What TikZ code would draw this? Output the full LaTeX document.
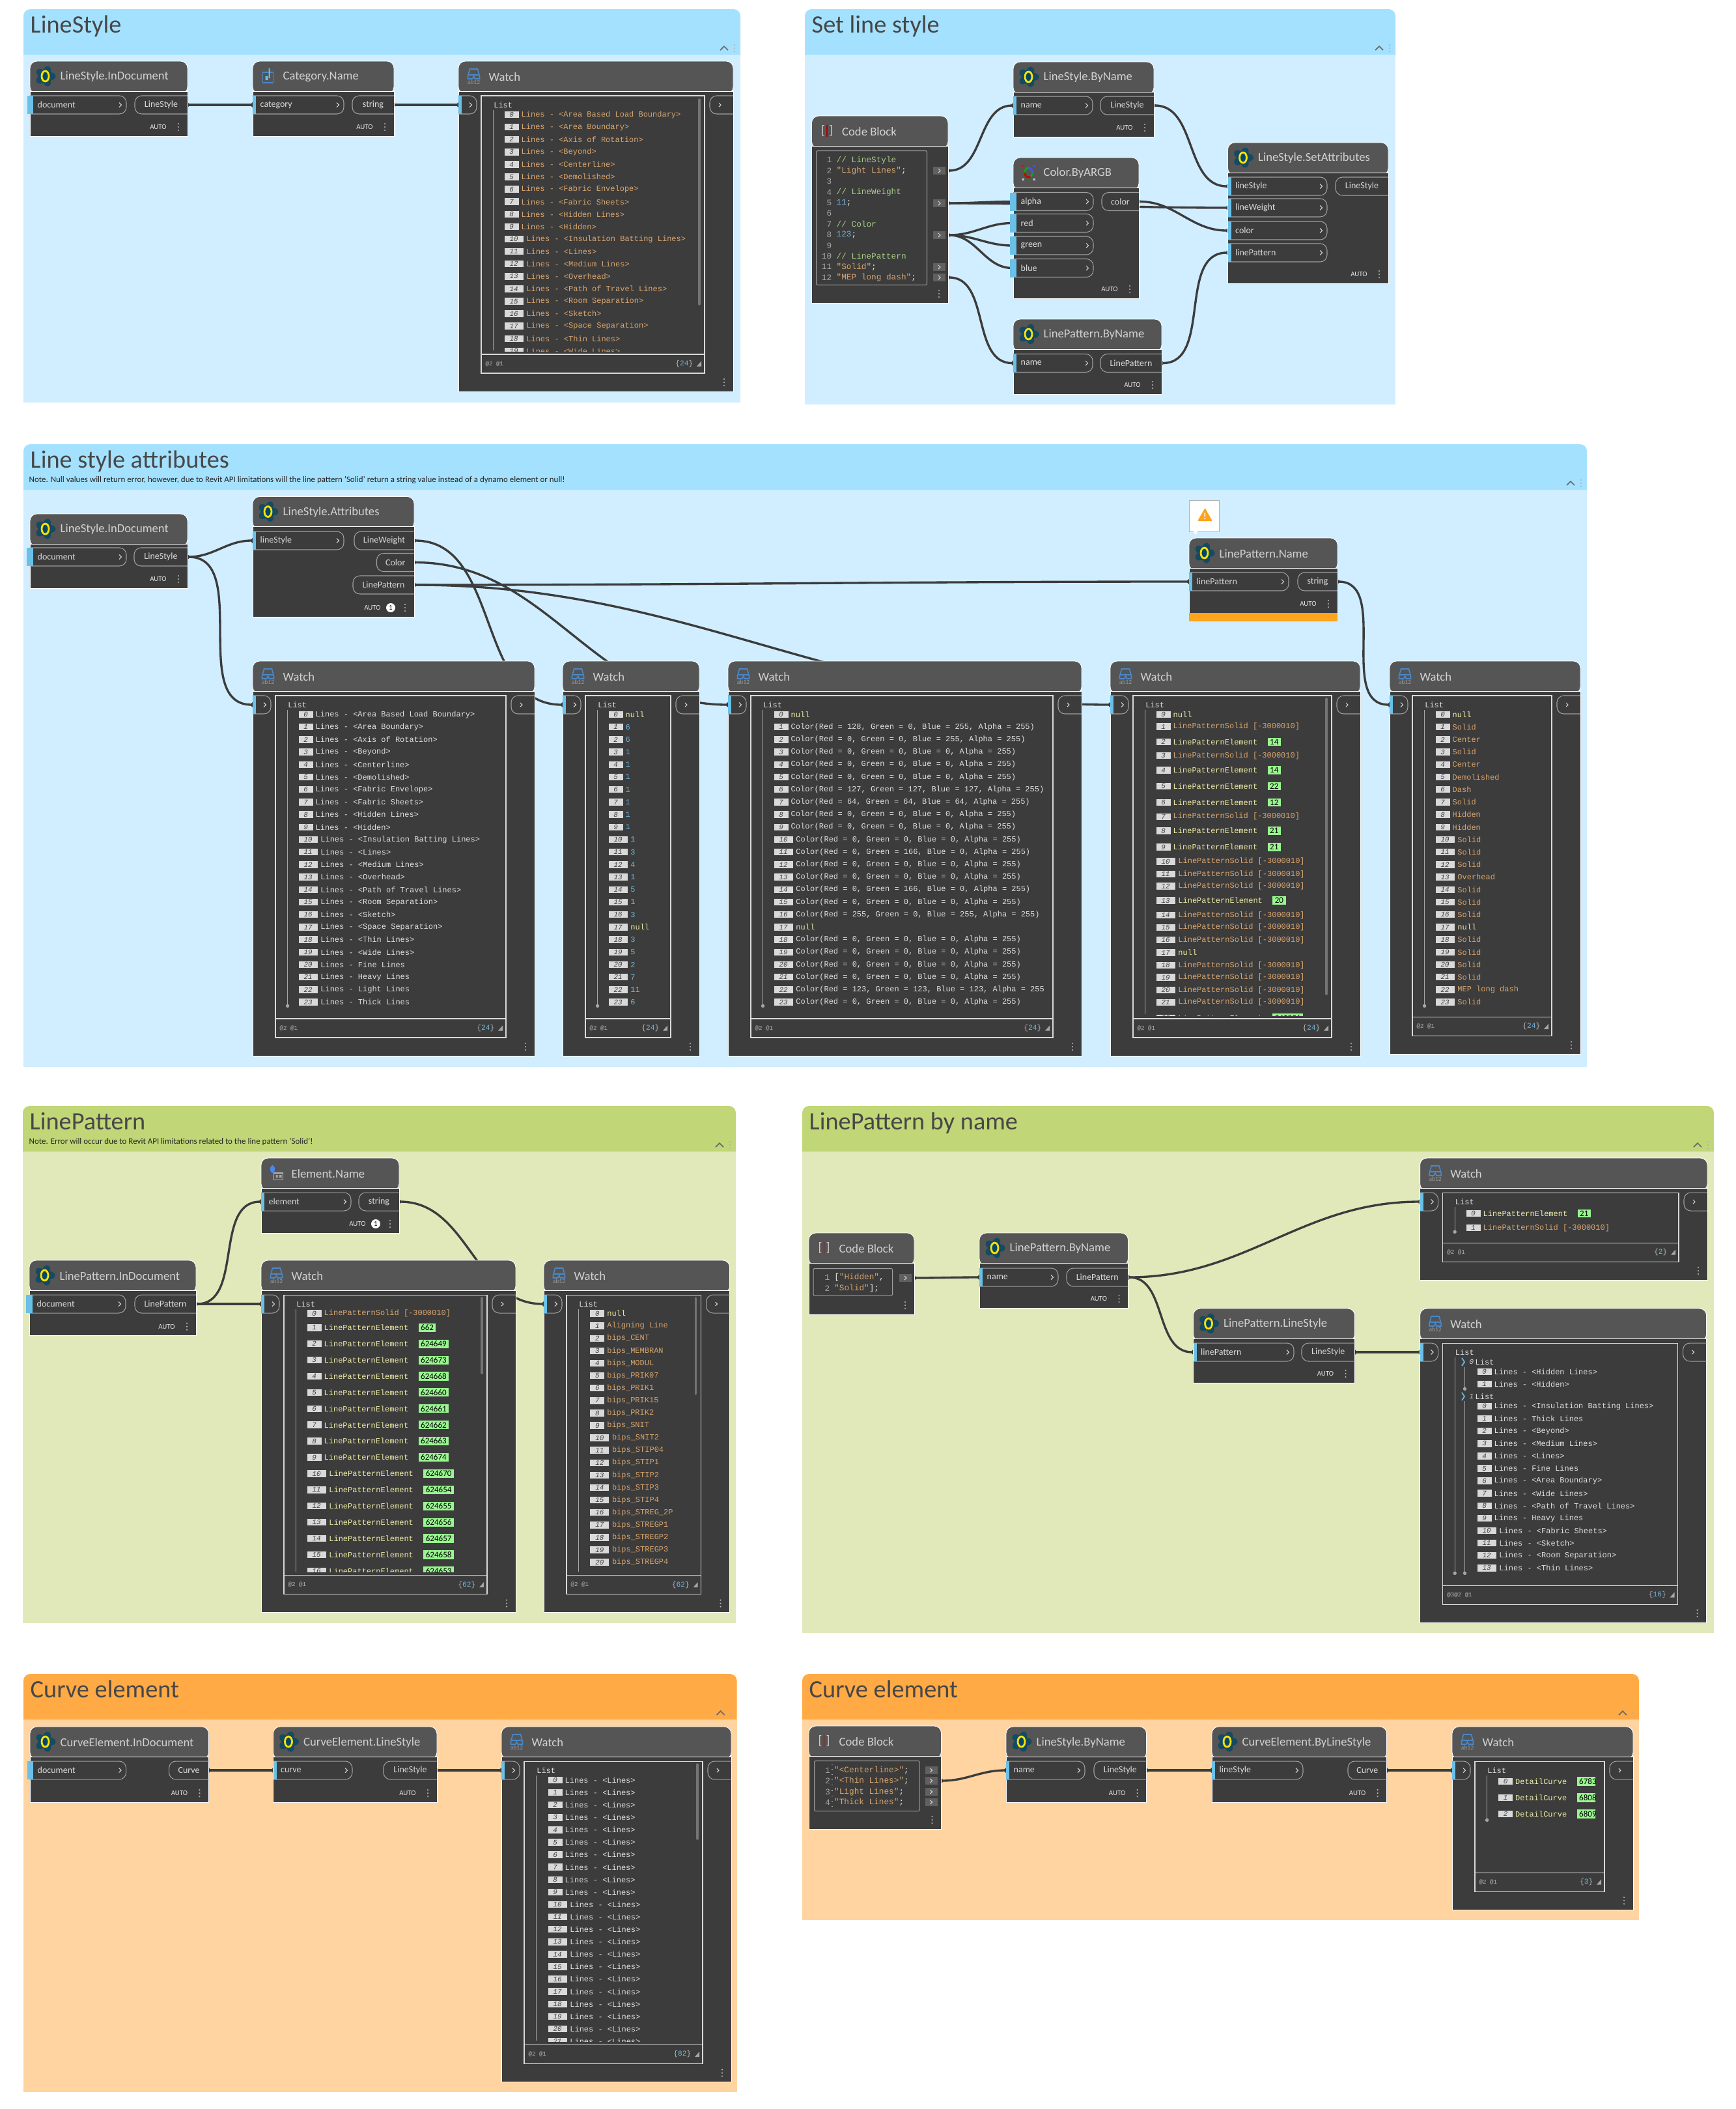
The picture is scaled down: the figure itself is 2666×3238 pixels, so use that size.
\documentclass[tikz,border=0pt]{standalone}
\usepackage{fontspec}
\setmainfont{Carlito}
\newfontfamily\listfont{Liberation Mono}
\usetikzlibrary{arrows.meta}
\usetikzlibrary{positioning}

\pgfdeclarelayer{grp}
\pgfdeclarelayer{wires}
\pgfsetlayers{grp,wires,main}

\definecolor{head_blue}{HTML}{A4E1FF}
\definecolor{body_blue}{HTML}{D0EEFF}
\definecolor{head_green}{HTML}{C1D676}
\definecolor{body_green}{HTML}{E1E9BB}
\definecolor{head_orange}{HTML}{FFAA45}
\definecolor{body_orange}{HTML}{FFD4A1}
\definecolor{node_dark}{HTML}{3C3C3C}
\definecolor{node_head}{HTML}{555555}
\definecolor{port_blue}{HTML}{6AC0E7}
\definecolor{str_col}{HTML}{D9A56E}
\definecolor{elem_col}{HTML}{EDEBA6}
\definecolor{num_col}{HTML}{6AB8E4}
\definecolor{com_col}{HTML}{A5CF85}
\definecolor{tag_green}{HTML}{98F58F}
\definecolor{warn_col}{HTML}{FCA41E}
\definecolor{scroll_col}{HTML}{747474}
\definecolor{glass_col}{HTML}{4A88C7}

\newcommand{\cstr}[1]{\textcolor{str_col}{#1}}
\newcommand{\ccom}[1]{\textcolor{com_col}{#1}}
\newcommand{\cnum}[1]{\textcolor{num_col}{#1}}
\newcommand{\solidtxt}{LinePatternSolid [-3000010]}

% group panel: name, x1, y1, x2, y2, header bottom, colours, title
\newcommand{\panel}[9]{%
  \begin{pgfonlayer}{grp}
    \fill[#7, rounded corners=3pt] (#2,#3) rectangle (#4,#6+12);
    \node[panel_body, fill=#8, px_size={#4-#2}{#5-#6}] (#1) at (#2,#6) {};
  \end{pgfonlayer}
  \node[group_title] (#1_title) at (#2+10,#3+36) {#9};
  \draw[collapse_line] (#4-31,#6-7) -- (#4-25,#6-13) -- (#4-19,#6-7);
  \dotcol{#4-9}{#6-10}
}
\newcommand{\dotcol}[2]{%
  \fill[dot_fill] (#1,#2-5) circle (0.35pt) (#1,#2) circle (0.35pt) (#1,#2+5) circle (0.35pt);
}

% icons, centred on the given point
\newcommand{\iconrevit}[3]{%
  \begin{scope}[shift={(#2,#3)}]
    \foreach \a in {90,162,234,306,378}
      \fill[icon_petal, rotate=\a] (0,8) ellipse (6 and 8);
    \draw[icon_ring] (0,0) ellipse (5.5 and 8);
  \end{scope}
}
\newcommand{\iconwatch}[3]{%
  \begin{scope}[shift={(#2,#3)}]
    \draw[icon_glass] (-9,0) -- (-6,-11) -- (6,-11) -- (9,0) -- (9,4) -- (2,4) -- (0,0) -- (-2,4) -- (-9,4) -- cycle (-9,-2) -- (9,-2);
    \node[icon_text] (#1_ab) at (0,9) {ab12};
  \end{scope}
}
\newcommand{\iconcode}[3]{%
  \node[icon_bracket] (#1_ic) at (#2,#3) {[\hspace{1.7pt}]};
  \draw[icon_red] (#2,#3-9) -- (#2,#3+9);
}
\newcommand{\iconcat}[3]{%
  \begin{scope}[shift={(#2,#3)}]
    \draw[icon_glass] (-8,-6) rectangle (8,10);
    \fill[port_blue] (-4,0) rectangle (0,6) (1,-12) rectangle (3,3);
  \end{scope}
}
\newcommand{\iconcolor}[3]{%
  \begin{scope}[shift={(#2,#3)}]
    \draw[green!70!black, line width=0.8pt] (0,0) ellipse (6 and 7);
    \draw[red!80!black, line width=0.8pt] (-6,0) arc (180:60:6 and 7);
    \draw[blue!70, line width=0.8pt] (6,0) arc (0:-90:6 and 7);
    \fill[red] (-10,-12) rectangle (-7,-9);
    \fill[blue!70] (7,-12) rectangle (10,-9);
    \fill[gray!40] (-10,9) rectangle (-7,12) (7,9) rectangle (10,12);
  \end{scope}
}
\newcommand{\iconelem}[3]{%
  \begin{scope}[shift={(#2,#3)}]
    \fill[port_blue!70!blue] (-6,-6) ellipse (3.5 and 6);
    \draw[icon_grey] (-4,0) rectangle (10,10);
    \fill[gray!70] (-1,3) rectangle (2,7) (4,3) rectangle (8,7);
  \end{scope}
}

% node: icon macro, name, x, y, w, h, title
\newcommand{\dynnode}[7]{%
  \filldraw[node_head, draw=white, line width=0.25pt, rounded corners=3pt] (#3,#4) rectangle ++(#5,50);
  \node[node_body, px_size={#5}{#6-46}] (#2) at (#3,#4+46) {};
  #1{#2}{#3+23.5}{#4+23}
  \node[node_title] (#2_title) at (#3+46,#4+24) {#7};
  \dotcol{#3+#5-14}{#4+#6-14}
}
\newcommand{\autotext}[1]{%
  \node[auto_text] (#1_auto) at ([shift={(-45,-14)}]#1.south east) {AUTO};
}
\newcommand{\autoone}[1]{%
  \node[auto_text] (#1_auto) at ([shift={(-64,-14)}]#1.south east) {AUTO};
  \node[one_badge] (#1_one) at ([shift={(-36,-14)}]#1.south east) {1};
}
% ports
\newcommand{\inport}[6][0]{%
  \node[port_box, px_size={#5}{28}] (#2) at (#3,#4) {};
  \draw[port_line, rounded corners=3pt] (#3,#4) -- (#3+#5,#4) -- (#3+#5,#4+28) -- (#3,#4+28);
  \fill[port_blue] (#3-#1,#4) rectangle (#3+5,#4+28);
  \node[port_text, right=0.11cm of #2.west] (#2_text) {#6};
  \draw[port_chev] (#3+#5-11,#4+10.5) -- (#3+#5-7.5,#4+14) -- (#3+#5-11,#4+17.5);
}
\newcommand{\outport}[5]{%
  \node[port_box, text=white!85!black, font=\fontsize{3.98}{4.5}\selectfont, px_size={#4-#2}{28}] (#1) at (#2,#3) {#5};
  \draw[port_line, rounded corners=3pt] (#4,#3) -- (#2,#3) -- (#2,#3+28) -- (#4,#3+28);
}
\newcommand{\wire}[2]{%
  \begin{pgfonlayer}{wires}
    \draw[wire_line] (#1) to[out=0,in=180] (#2);
  \end{pgfonlayer}
}
% watch: [depth text], name, x, y, w, h, count
\newcommand{\watchnode}[7][@2 @1]{%
  \dynnode{\iconwatch}{#2}{#3}{#4}{#5}{#6}{Watch}
  \inport{#2_in}{#3}{#4+53}{28}{}
  \outport{#2_out}{#3+#5-36}{#4+53}{#3+#5}{}
  \draw[port_chev] (#3+#5-22,#4+64) -- (#3+#5-19,#4+67) -- (#3+#5-22,#4+70);
  \node[list_box, px_size={#5-79}{#6-110}] (#2_list) at (#3+35,#4+53) {};
  \node[list_box, px_size={#5-79}{29}] (#2_foot) at (#3+35,#4+#6-57) {};
  \node[foot_text, right=0.06cm of #2_foot.west] (#2_depth) {#1};
  \node[count_text, left=0.17cm of #2_foot.east] (#2_count) {\{\cnum{#7}\}};
  \fill[gray!70] ([shift={(-5,-4)}]#2_foot.east) -- ([shift={(-5,4)}]#2_foot.east) -- ([shift={(-12,4)}]#2_foot.east) -- cycle;
  \node[row_plain] (#2_head) at (#3+53.6,#4+67) {List};
}
\newcommand{\treeline}[3][-]{%
  \draw[tree_line, #1] ([shift={(0,8)}]#2_head.west) -- (#2_head.west |- 0,#3);
}
\newcommand{\scrollbar}[3]{%
  \draw[scroll_line] (#1,#2) -- (#1,#3);
}
% one row of a watch list: name, x, y, index, text, style
\newcommand{\listrow}[6]{%
  \ifnum#4>9 \def\idxw{29}\def\idxt{33.7}\else\def\idxw{22}\def\idxt{26}\fi
  \node[idx_box, px_size={\idxw}{10.5}] (#1_b#4) at (#2,#3) {#4};
  \node[#6] (#1_r#4) at (#2+\idxt,#3) {#5};
}
\newcommand{\tagrow}[6][LinePatternElement]{%
  \listrow{#2}{#3}{#4}{#5}{#1}{row_elem}
  \node[id_tag, right=0.14cm of #2_r#5] (#2_t#5) {#6};
}
% code block helpers
\newcommand{\codeline}[6]{%
  \node[line_num] (#1_n#5) at (#2,#4) {#5};
  \node[code_text] (#1_c#5) at (#3,#4) {#6};
}
\newcommand{\codeout}[3]{%
  \node[code_port] (#1) at (#2,#3) {};
  \draw[port_chev] (#2+8,#3-3) -- (#2+11,#3) -- (#2+8,#3+3);
}
\newcommand{\linesnames}{Lines - <Area Based Load Boundary>, Lines - <Area Boundary>, Lines - <Axis of Rotation>, Lines - <Beyond>, Lines - <Centerline>, Lines - <Demolished>, Lines - <Fabric Envelope>, Lines - <Fabric Sheets>, Lines - <Hidden Lines>, Lines - <Hidden>, Lines - <Insulation Batting Lines>, Lines - <Lines>, Lines - <Medium Lines>, Lines - <Overhead>, Lines - <Path of Travel Lines>, Lines - <Room Separation>, Lines - <Sketch>, Lines - <Space Separation>, Lines - <Thin Lines>, Lines - <Wide Lines>, Lines - Fine Lines, Lines - Heavy Lines, Lines - Light Lines, Lines - Thick Lines}

\begin{document}
\begin{tikzpicture}[
    x=0.01cm, y=-0.01cm,
    px_size/.style 2 args={minimum width=(#1)*0.01cm, minimum height=(#2)*0.01cm},
    panel_body/.style={rectangle, anchor=north west, inner sep=0pt, outer sep=0pt},
    group_title/.style={anchor=base west, inner sep=0pt, text=black!72, font=\fontsize{10.9}{12}\selectfont},
    group_note/.style={anchor=base west, inner sep=0pt, text=black!85, font=\fontsize{3.69}{4}\selectfont},
    collapse_line/.style={gray!85!black, line width=0.5pt},
    dot_fill/.style={fill=gray!60},
    node_body/.style={rectangle, anchor=north west, fill=node_dark, draw=white, line width=0.25pt, inner sep=0pt, outer sep=0pt},
    node_head/.style={fill=node_head},
    node_title/.style={anchor=west, inner sep=0pt, text=white!82!black, font=\fontsize{5.3}{6}\selectfont},
    auto_text/.style={inner sep=0pt, text=white!90!black, font=\fontsize{3.1}{4}\selectfont},
    one_badge/.style={circle, fill=white, inner sep=0pt, minimum size=0.14cm, text=black, font=\fontsize{3.1}{4}\selectfont},
    port_box/.style={rectangle, anchor=north west, inner sep=0pt, outer sep=0pt},
    port_line/.style={gray!75, line width=0.3pt},
    port_chev/.style={white!85!black, line width=0.3pt},
    port_text/.style={anchor=west, inner sep=0pt, text=white!85!black, font=\fontsize{3.98}{4.5}\selectfont},
    port_blue/.style={fill=port_blue},
    wire_line/.style={{Circle[length=2pt]}-{Circle[length=2pt]}, draw=node_dark, line width=0.95pt, shorten <=-1pt, shorten >=-1pt},
    list_box/.style={rectangle, anchor=north west, draw=white!85!black, line width=0.3pt, inner sep=0pt, outer sep=0pt},
    foot_text/.style={inner sep=0pt, text=white!70!black, font=\listfont\fontsize{2.6}{3}\selectfont},
    count_text/.style={inner sep=0pt, text=white!70!black, font=\listfont\fontsize{3.2}{4}\selectfont},
    tree_line/.style={gray!70, line width=0.3pt},
    tree_dot/.style={-{Circle[length=1.5pt]}},
    scroll_line/.style={scroll_col, line width=1pt, line cap=round},
    idx_box/.style={rectangle, anchor=west, fill=white!85!black, inner sep=0pt, text=black!75, font=\listfont\itshape\fontsize{3.1}{3}\selectfont},
    row_plain/.style={anchor=west, inner sep=0pt, text=white!88!black, font=\listfont\fontsize{3.41}{4}\selectfont},
    row_str/.style={row_plain, text=str_col},
    row_elem/.style={row_plain, text=elem_col},
    row_null/.style={row_plain, text=elem_col},
    row_num/.style={row_plain, text=num_col},
    id_tag/.style={rectangle, fill=tag_green, inner xsep=1pt, inner ysep=0.6pt, text=black, font=\fontsize{3.7}{4}\selectfont},
    code_box/.style={rectangle, anchor=north west, draw=gray!75, rounded corners=0.6pt, line width=0.3pt, inner sep=0pt},
    code_text/.style={anchor=west, inner sep=0pt, text=white!90!black, font=\listfont\fontsize{3.62}{4}\selectfont},
    line_num/.style={anchor=east, inner sep=0pt, text=gray!70, font=\listfont\fontsize{3.62}{4}\selectfont},
    code_port/.style={rectangle, anchor=west, fill=gray!75!black, minimum width=0.19cm, minimum height=0.12cm, inner sep=0pt, outer sep=0pt},
    icon_petal/.style={fill=blue!30!cyan!40!black, opacity=0.75},
    icon_ring/.style={draw=yellow!85!orange, line width=0.8pt},
    icon_glass/.style={draw=glass_col, line width=0.45pt},
    icon_grey/.style={draw=gray!60, line width=0.3pt},
    icon_text/.style={inner sep=0pt, text=gray!80, font=\fontsize{2.7}{3}\selectfont},
    icon_bracket/.style={inner sep=0pt, text=white!80!black, font=\fontsize{5.5}{6}\selectfont},
    icon_red/.style={draw=red!70!black, line width=0.5pt},
    warn_bubble/.style={rectangle, anchor=north west, fill=white, draw=gray!60, line width=0.25pt, inner sep=0pt},
    warn_band/.style={rectangle, anchor=north west, fill=warn_col, inner sep=0pt, outer sep=0pt}
]
\useasboundingbox (0,0) rectangle (2666,3238);

% Groups
\panel{g1}{36}{14}{1137}{618}{84}{head_blue}{body_blue}{LineStyle}
\panel{g2}{1236}{14}{2143}{621}{84}{head_blue}{body_blue}{Set line style}
\panel{g3}{36}{682}{2437}{1638}{752}{head_blue}{body_blue}{Line style attributes}
\panel{g4}{35}{1698}{1130}{2491.5}{1768}{head_green}{body_green}{LinePattern}
\panel{g5}{1232}{1698}{2632}{2507}{1768}{head_green}{body_green}{LinePattern by name}
\panel{g6}{36}{2570}{1131.6}{3212}{2640}{head_orange}{body_orange}{Curve element}
\panel{g7}{1232}{2570}{2517}{2948}{2640}{head_orange}{body_orange}{Curve element}
\node[group_note] (g3_note) at (44,740) {Note. Null values will return error, however, due to Revit API limitations will the line pattern 'Solid' return a string value instead of a dynamo element or null!};
\node[group_note] (g4_note) at (44,1756) {Note. Error will occur due to Revit API limitations related to the line pattern 'Solid'!};

% LineStyle
\dynnode{\iconrevit}{g1_doc}{46}{94}{242}{115}{LineStyle.InDocument}
\inport[4]{g1_doc_in}{46}{147}{148}{document}
\outport{g1_doc_out}{207}{147}{288}{LineStyle}
\autotext{g1_doc}
\dynnode{\iconcat}{g1_cat}{388}{94}{217}{115}{Category.Name}
\inport{g1_cat_in}{388}{147}{140}{category}
\outport{g1_cat_out}{541}{147}{605}{string}
\autotext{g1_cat}
\watchnode{g1_w}{704}{94}{422}{507}{24}
\treeline{g1_w}{538}
\scrollbar{1074}{153}{467}
\begin{scope}
  \clip (g1_w_list.north west) rectangle ([shift={(-14,-5)}]g1_w_list.south east);
  \foreach \txt [count=\k from 0] in \linesnames
    {\listrow{g1_w}{774}{176+19.1*\k}{\k}{\txt}{row_str}}
\end{scope}
\wire{g1_doc_out.east}{g1_cat_in.west}
\wire{g1_cat_out.east}{g1_w_in.west}

% Set line style
\dynnode{\iconcode}{g2_code}{1246.5}{178}{209.5}{287}{Code Block}
\node[code_box, px_size={170}{206}] (g2_edit) at (1253,231) {};
\foreach \txt [count=\k] in {{\ccom{// LineStyle}}, {\cstr{"Light Lines"};}, {}, {\ccom{// LineWeight}}, {\cnum{11};}, {}, {\ccom{// Color}}, {\cnum{123};}, {}, {\ccom{// LinePattern}}, {\cstr{"Solid"};}, {\cstr{"MEP long dash"};}}
  {\codeline{g2_code}{1278}{1284}{229.3+16.4*\k}{\k}{\txt}}
\codeout{g2_o0}{1433}{262}
\codeout{g2_o1}{1433}{312}
\codeout{g2_o2}{1433}{361}
\codeout{g2_o3}{1433}{410}
\codeout{g2_o4}{1433}{426}
\dynnode{\iconrevit}{g2_ls}{1556}{95}{216}{115}{LineStyle.ByName}
\inport{g2_ls_in}{1556}{148}{122}{name}
\outport{g2_ls_out}{1690}{148}{1772}{LineStyle}
\autotext{g2_ls}
\dynnode{\iconcolor}{g2_col}{1556}{242}{193}{216}{Color.ByARGB}
\inport[5]{g2_col_a}{1556}{295.5}{123}{alpha}
\inport[5]{g2_col_r}{1556}{328.5}{123}{red}
\inport[5]{g2_col_g}{1556}{363}{123}{green}
\inport[5]{g2_col_b}{1556}{397.5}{123}{blue}
\outport{g2_col_out}{1692}{295.5}{1749}{color}
\autotext{g2_col}
\dynnode{\iconrevit}{g2_lp}{1556}{490}{228}{115}{LinePattern.ByName}
\inport{g2_lp_in}{1556}{543.5}{122}{name}
\outport{g2_lp_out}{1690}{543.5}{1784}{LinePattern}
\autotext{g2_lp}
\dynnode{\iconrevit}{g2_set}{1885.5}{219}{246.5}{216}{LineStyle.SetAttributes}
\inport{g2_set_s}{1885.5}{272}{152.5}{lineStyle}
\inport{g2_set_w}{1885.5}{305}{152.5}{lineWeight}
\inport{g2_set_c}{1885.5}{340}{152.5}{color}
\inport{g2_set_p}{1885.5}{374}{152.5}{linePattern}
\outport{g2_set_out}{2051}{272}{2132}{LineStyle}
\autotext{g2_set}
\wire{g2_o0 -| g2_code.east}{g2_ls_in.west}
\wire{g2_o1 -| g2_code.east}{g2_col_a.west}
\wire{g2_o1 -| g2_code.east}{g2_set_w.west}
\wire{g2_o2 -| g2_code.east}{g2_col_r.west}
\wire{g2_o2 -| g2_code.east}{g2_col_g.west}
\wire{g2_o2 -| g2_code.east}{g2_col_b.west}
\wire{g2_o4 -| g2_code.east}{g2_lp_in.west}
\wire{g2_ls_out.east}{g2_set_s.west}
\wire{g2_col_out.east}{g2_set_c.west}
\wire{g2_lp_out.east}{g2_set_p.west}

% Line style attributes
\dynnode{\iconrevit}{g3_doc}{46}{789}{242}{114}{LineStyle.InDocument}
\inport[5]{g3_doc_in}{46}{841}{148}{document}
\outport{g3_doc_out}{206}{841}{288}{LineStyle}
\autotext{g3_doc}
\dynnode{\iconrevit}{g3_att}{388}{762.5}{248}{184.5}{LineStyle.Attributes}
\inport{g3_att_in}{388}{816}{140}{lineStyle}
\outport{g3_att_w}{544}{816}{636}{LineWeight}
\outport{g3_att_c}{578.5}{849.5}{636}{Color}
\outport{g3_att_p}{542}{884}{636}{LinePattern}
\autoone{g3_att}
\dynnode{\iconrevit}{g3_name}{1826}{826}{228}{115}{LinePattern.Name}
\inport{g3_name_in}{1826}{879}{153}{linePattern}
\outport{g3_name_out}{1993}{879}{2054}{string}
\autotext{g3_name}
\node[warn_band, px_size={228}{13}] (g3_name_band) at (1826,941) {};
\node[warn_bubble, px_size={46}{47.5}] (g3_warn) at (1826,768) {};
\fill[white] (1832,815) -- (1836,821) -- (1840,815) -- cycle;
\fill[warn_col, rounded corners=0.4pt] (1850.5,780) -- (1862,800) -- (1839,800) -- cycle;
\node[auto_text, text=white, font=\bfseries\fontsize{4}{4}\selectfont] (g3_warn_mark) at (1850.5,793) {!};
\watchnode{g3_w1}{388}{1015}{433}{606}{24}
\treeline[tree_dot]{g3_w1}{1547}
\foreach \txt [count=\k from 0] in \linesnames
  {\listrow{g3_w1}{458}{1097+19.2*\k}{\k}{\txt}{row_plain}}
\watchnode{g3_w2}{864}{1015}{210}{606}{24}
\treeline[tree_dot]{g3_w2}{1547}
\foreach \txt/\sty [count=\k from 0] in {null/row_null, 6/row_num, 6/row_num, 1/row_num, 1/row_num, 1/row_num, 1/row_num, 1/row_num, 1/row_num, 1/row_num, 1/row_num, 3/row_num, 4/row_num, 1/row_num, 5/row_num, 1/row_num, 3/row_num, null/row_null, 3/row_num, 5/row_num, 2/row_num, 7/row_num, 11/row_num, 6/row_num}
  {\listrow{g3_w2}{934}{1097+19.2*\k}{\k}{\txt}{\sty}}
\watchnode{g3_w3}{1118}{1015}{543}{606}{24}
\treeline[tree_dot]{g3_w3}{1547}
\begin{scope}
  \clip (g3_w3_list.north west) rectangle ([shift={(-14,-5)}]g3_w3_list.south east);
  \listrow{g3_w3}{1188}{1097}{0}{null}{row_null}
  \listrow{g3_w3}{1188}{1097+19.2*17}{17}{null}{row_null}
  \foreach \idx/\cr/\cg/\cb in {1/128/0/255, 2/0/0/255, 3/0/0/0, 4/0/0/0, 5/0/0/0, 6/127/127/127, 7/64/64/64, 8/0/0/0, 9/0/0/0, 10/0/0/0, 11/0/166/0, 12/0/0/0, 13/0/0/0, 14/0/166/0, 15/0/0/0, 16/255/0/255, 18/0/0/0, 19/0/0/0, 20/0/0/0, 21/0/0/0, 22/123/123/123, 23/0/0/0}
    {\listrow{g3_w3}{1188}{1097+19.2*\idx}{\idx}{Color(Red = \cr, Green = \cg, Blue = \cb, Alpha = 255)}{row_plain}}
\end{scope}
\watchnode{g3_w4}{1705}{1015}{384}{606}{24}
\treeline{g3_w4}{1557}
\scrollbar{2037}{1073}{1526}
\begin{scope}
  \clip (g3_w4_list.north west) rectangle ([shift={(-14,-5)}]g3_w4_list.south east);
  \foreach \ry/\idx/\txt/\sty in {1096.9/0/null/row_null, 1115.6/1/\solidtxt/row_str, 1160/3/\solidtxt/row_str, 1253.8/7/\solidtxt/row_str, 1322.5/10/\solidtxt/row_str, 1341.9/11/\solidtxt/row_str, 1360.6/12/\solidtxt/row_str, 1405/14/\solidtxt/row_str, 1423.8/15/\solidtxt/row_str, 1443/16/\solidtxt/row_str, 1462.5/17/null/row_null, 1481.9/18/\solidtxt/row_str, 1500.6/19/\solidtxt/row_str, 1520/20/\solidtxt/row_str, 1538.8/21/\solidtxt/row_str}
    {\listrow{g3_w4}{1775}{\ry}{\idx}{\txt}{\sty}}
  \foreach \ry/\idx/\tagv in {1138.8/2/14, 1182.5/4/14, 1206.9/5/22, 1231.9/6/12, 1275.6/8/21, 1300.6/9/21, 1382.5/13/20, 1563/22/245096}
    {\tagrow{g3_w4}{1775}{\ry}{\idx}{\tagv}}
\end{scope}
\watchnode{g3_w5}{2134}{1015}{293}{603.5}{24}
\treeline[tree_dot]{g3_w5}{1547}
\foreach \txt/\sty [count=\k from 0] in {null/row_null, Solid/row_str, Center/row_str, Solid/row_str, Center/row_str, Demolished/row_str, Dash/row_str, Solid/row_str, Hidden/row_str, Hidden/row_str, Solid/row_str, Solid/row_str, Solid/row_str, Overhead/row_str, Solid/row_str, Solid/row_str, Solid/row_str, null/row_null, Solid/row_str, Solid/row_str, Solid/row_str, Solid/row_str, MEP long dash/row_str, Solid/row_str}
  {\listrow{g3_w5}{2204}{1097+19.2*\k}{\k}{\txt}{\sty}}
\wire{g3_doc_out.east}{g3_att_in.west}
\wire{g3_doc_out.east}{g3_w1_in.west}
\wire{g3_att_w.east}{g3_w2_in.west}
\wire{g3_att_c.east}{g3_w3_in.west}
\wire{g3_att_p.east}{g3_w4_in.west}
\wire{g3_att_p.east}{g3_name_in.west}
\wire{g3_name_out.east}{g3_w5_in.west}

% LinePattern
\dynnode{\iconrevit}{g4_doc}{45}{1935}{256}{115.5}{LinePattern.InDocument}
\inport[5]{g4_doc_in}{45}{1988}{148}{document}
\outport{g4_doc_out}{207}{1988}{301}{LinePattern}
\autotext{g4_doc}
\dynnode{\iconelem}{g4_el}{401}{1778}{212}{115}{Element.Name}
\inport{g4_el_in}{401}{1831}{138}{element}
\outport{g4_el_out}{551}{1831}{613}{string}
\autoone{g4_el}
\watchnode{g4_w1}{401}{1935}{391}{540.6}{62}
\treeline{g4_w1}{2413}
\scrollbar{740}{1993}{2108}
\begin{scope}
  \clip (g4_w1_list.north west) rectangle ([shift={(-14,-5)}]g4_w1_list.south east);
  \listrow{g4_w1}{471}{2016.6}{0}{\solidtxt}{row_str}
  \foreach \tagv [count=\k] in {662, 624649, 624673, 624668, 624660, 624661, 624662, 624663, 624674, 624670, 624654, 624655, 624656, 624657, 624658, 624653}
    {\tagrow{g4_w1}{471}{2013.4+24.9*\k}{\k}{\tagv}}
\end{scope}
\watchnode{g4_w2}{835}{1935}{285.6}{540.6}{62}
\treeline{g4_w2}{2413}
\scrollbar{1068.6}{1993}{2140}
\foreach \txt [count=\k from 2] in {bips\_CENT, bips\_MEMBRAN, bips\_MODUL, bips\_PRIK07, bips\_PRIK1, bips\_PRIK15, bips\_PRIK2, bips\_SNIT, bips\_SNIT2, bips\_STIP04, bips\_STIP1, bips\_STIP2, bips\_STIP3, bips\_STIP4, bips\_STREG\_2P, bips\_STREGP1, bips\_STREGP2, bips\_STREGP3, bips\_STREGP4}
  {\listrow{g4_w2}{905.6}{2016.6+19.1*\k}{\k}{\txt}{row_str}}
\listrow{g4_w2}{905.6}{2016.6}{0}{null}{row_null}
\listrow{g4_w2}{905.6}{2035.7}{1}{Aligning Line}{row_str}
\wire{g4_doc_out.east}{g4_el_in.west}
\wire{g4_doc_out.east}{g4_w1_in.west}
\wire{g4_el_out.east}{g4_w2_in.west}

% LinePattern by name
\dynnode{\iconcode}{g5_code}{1242}{1893}{162}{125}{Code Block}
\node[code_box, px_size={121.5}{41.5}] (g5_edit) at (1248.5,1947) {};
\codeline{g5_code}{1275}{1280.6}{1961}{1}{[\cstr{"Hidden"},}
\codeline{g5_code}{1275}{1280.6}{1978}{2}{\cstr{"Solid"}];}
\codeout{g5_o0}{1381}{1962}
\dynnode{\iconrevit}{g5_bn}{1504}{1893}{228.5}{115}{LinePattern.ByName}
\inport{g5_bn_in}{1504}{1947}{121}{name}
\outport{g5_bn_out}{1638}{1947}{1732.5}{LinePattern}
\autotext{g5_bn}
\dynnode{\iconrevit}{g5_ls}{1832.5}{2009}{248}{114}{LinePattern.LineStyle}
\inport{g5_ls_in}{1832.5}{2062}{154.5}{linePattern}
\outport{g5_ls_out}{1999}{2062}{2080.5}{LineStyle}
\autotext{g5_ls}
\watchnode{g5_wa}{2180.6}{1778}{441.4}{187}{2}
\treeline[tree_dot]{g5_wa}{1894}
\tagrow{g5_wa}{2251}{1863}{0}{21}
\listrow{g5_wa}{2251}{1885}{1}{\solidtxt}{row_str}
\watchnode[@3@2 @1]{g5_wb}{2180.6}{2009}{440}{482}{16}
\treeline[tree_dot]{g5_wb}{2418}
\draw[tree_line, tree_dot] (2249.5,2099) -- (2249.5,2135);
\draw[tree_line, tree_dot] (2249.5,2151) -- (2249.5,2418);
\draw[port_chev, num_col, line width=0.5pt] (2245,2085) -- (2249,2091) -- (2245,2097);
\draw[port_chev, num_col, line width=0.5pt] (2245,2138) -- (2249,2144) -- (2245,2150);
\node[idx_box, fill=none, text=white!85!black] (g5_wb_s0) at (2256,2091) {0};
\node[row_plain] (g5_wb_l0) at (2265,2091) {List};
\node[idx_box, fill=none, text=white!85!black] (g5_wb_s1) at (2256,2144) {1};
\node[row_plain] (g5_wb_l1) at (2265,2144) {List};
\listrow{g5_wb_a}{2268}{2106}{0}{Lines - <Hidden Lines>}{row_plain}
\listrow{g5_wb_a}{2268}{2125}{1}{Lines - <Hidden>}{row_plain}
\foreach \txt [count=\k from 0] in {Lines - <Insulation Batting Lines>, Lines - Thick Lines, Lines - <Beyond>, Lines - <Medium Lines>, Lines - <Lines>, Lines - Fine Lines, Lines - <Area Boundary>, Lines - <Wide Lines>, Lines - <Path of Travel Lines>, Lines - Heavy Lines, Lines - <Fabric Sheets>, Lines - <Sketch>, Lines - <Room Separation>, Lines - <Thin Lines>}
  {\listrow{g5_wb_b}{2268}{2159+19.1*\k}{\k}{\txt}{row_plain}}
\wire{g5_o0 -| g5_code.east}{g5_bn_in.west}
\wire{g5_bn_out.east}{g5_wa_in.west}
\wire{g5_bn_out.east}{g5_ls_in.west}
\wire{g5_ls_out.east}{g5_wb_in.west}

% Curve element
\dynnode{\iconrevit}{g6_doc}{46}{2651}{274.5}{116}{CurveElement.InDocument}
\inport[4]{g6_doc_in}{46}{2704}{147.6}{document}
\outport{g6_doc_out}{259.6}{2704}{320.5}{Curve}
\autotext{g6_doc}
\dynnode{\iconrevit}{g6_ls}{419.5}{2651}{251.5}{116}{CurveElement.LineStyle}
\inport{g6_ls_in}{419.5}{2704}{121.5}{curve}
\outport{g6_ls_out}{589}{2704}{671}{LineStyle}
\autotext{g6_ls}
\watchnode{g6_w}{770}{2651}{353}{545.5}{82}
\treeline{g6_w}{3133}
\scrollbar{1071}{2709}{2823}
\begin{scope}
  \clip (g6_w_list.north west) rectangle ([shift={(-14,-5)}]g6_w_list.south east);
  \foreach \k in {0,...,21}
    {\listrow{g6_w}{841}{2733+19.1*\k}{\k}{Lines - <Lines>}{row_plain}}
\end{scope}
\wire{g6_doc_out.east}{g6_ls_in.west}
\wire{g6_ls_out.east}{g6_w_in.west}

\dynnode{\iconcode}{g7_code}{1242}{2650}{203.5}{158}{Code Block}
\node[code_box, px_size={161.5}{77}] (g7_edit) at (1250,2703) {};
\draw[port_line, dotted] (1278,2708) -- (1278,2776);
\codeline{g7_code}{1275.6}{1280.5}{2718}{1}{\cstr{"<Centerline>"};}
\codeline{g7_code}{1275.6}{1280.5}{2734}{2}{\cstr{"<Thin Lines>"};}
\codeline{g7_code}{1275.6}{1280.5}{2751}{3}{\cstr{"Light Lines"};}
\codeline{g7_code}{1275.6}{1280.5}{2767}{4}{\cstr{"Thick Lines"};}
\codeout{g7_o0}{1420.6}{2718}
\codeout{g7_o1}{1420.6}{2734}
\codeout{g7_o2}{1420.6}{2751}
\codeout{g7_o3}{1420.6}{2767}
\dynnode{\iconrevit}{g7_bn}{1545}{2651}{215.6}{116}{LineStyle.ByName}
\inport{g7_bn_in}{1545}{2704}{121}{name}
\outport{g7_bn_out}{1680}{2704}{1760.6}{LineStyle}
\autotext{g7_bn}
\dynnode{\iconrevit}{g7_el}{1861}{2651}{268.6}{116}{CurveElement.ByLineStyle}
\inport{g7_el_in}{1861}{2704}{140}{lineStyle}
\outport{g7_el_out}{2070}{2704}{2129.6}{Curve}
\autotext{g7_el}
\watchnode{g7_w}{2230}{2651}{278}{281}{3}
\treeline[tree_dot]{g7_w}{2797}
\begin{scope}
  \clip (g7_w_list.north west) rectangle ([shift={(-14,-5)}]g7_w_list.south east);
  \tagrow[DetailCurve]{g7_w}{2300.4}{2735}{0}{6783}
  \tagrow[DetailCurve]{g7_w}{2300.4}{2760}{1}{6808}
  \tagrow[DetailCurve]{g7_w}{2300.4}{2785}{2}{6809}
\end{scope}
\wire{g7_o1 -| g7_code.east}{g7_bn_in.west}
\wire{g7_bn_out.east}{g7_el_in.west}
\wire{g7_el_out.east}{g7_w_in.west}
\end{tikzpicture}
\end{document}
